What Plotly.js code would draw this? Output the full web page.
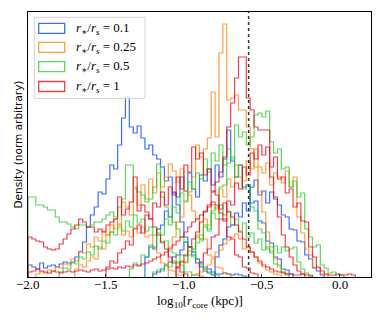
<!DOCTYPE html>
<html><head><meta charset="utf-8">
<script src="https://cdn.plot.ly/plotly-3.0.1.min.js"></script>
<style>html,body{margin:0;padding:0;background:#fff}</style>
</head><body><div id="chart" style="width:382px;height:319px"></div>
<script>
// bin width of all histograms (log10 kpc)
const binWidth = 0.025;

// r*/rs = 0.1 (blue)
const blue1Start = -2.0;
const blue1 = [12,10,8,14,9,11,12,10,13,15,14,15,20,25,35,50,62,70,85,83,98,112,108,132,159,180,150,144,151,139,128,132,122,118,110,96,100,85,72,55,40,30,22,14,10,6,4,2];
const blue2Start = -1.25;
const blue2 = [20,30,28,48,52,66,60,84,80,100,86,104,88,80,102,96,108,92,112,100,118,147,116,100,112,90,92,74,76,56,54,36,34,20,18,8,7,3];
const blue3Start = -0.8;
const blue3 = [20,32,38,50,52,64,60,74,66,90,97,82,86,74,85,78,72,62,60,48,47,36,35,22,18,9,6,2];
const blue4Start = -1.2;
const blue4 = [3,5,8,12,15,20,22,27,35,30,25,18,14,10,8,5,3,3,4,3,2,3,2,1];

// r*/rs = 0.25 (orange)
const orange1Start = -1.1;
const orange1 = [30,40,55,60,75,85,100,132,120,128,139,185,140,224,253,177,179,182,167,167,150,128,110,85,65,45,30,18,10,5,2];
const orange2Start = -1.05;
const orange2 = [10,16,14,26,28,42,38,58,52,72,68,88,80,98,90,112,100,96,116,108,128,110,104,114,92,104,100,94,106,90,100,60,44,28,22,10,9,3,2];
const orange3Start = -1.7;
const orange3 = [8,12,10,16,20,18,30,28,42,45,58,52,75,70,62,88,72,92,78,98,84,104,90,100,113,106,95,108,86,82,66,58,42,38,22,20,10,9,4,3];
const orange4Start = -1.95;
const orange4 = [3,5,4,7,6,10,9,13,12,18,16,26,24,33,30,40,36,46,42,52,48,53,42,46,40,49,44,50,40,42,30,24,14,13,7,6,2,2];
const orange5Start = -0.95;
const orange5 = [2,3,5,8,12,18,25,27,33,37,40,43,38,28,30,25,20,14,10,7,5,3,2];

// r*/rs = 0.5 (green)
const green1Start = -2.0;
const green1 = [80,80,72,72,70,67,67,60,55,55,53,50,48,52,52,50,52,55,55,58,62,65,60,70,78,112,112,90,85,82,75,78,90,113,80,70,60,55,48,40,35,30,25,18,12,8,5,3,2];
const green2Start = -1.0;
const green2 = [15,22,20,34,36,50,46,66,70,90,92,114,118,152,140,145,132,140,162,164,160,166,135,124,128,108,110,90,96,80,84,48,40,30,32,12,9,4,5,2,2];
const green3Start = -1.35;
const green3 = [8,14,12,22,20,32,30,48,42,58,52,70,64,84,76,95,88,104,98,118,105,124,116,132,112,128,120,100,112,88,92,70,66,48,44,28,24,13,12,5,3];
const green4Start = -1.8;
const green4 = [5,9,8,14,13,20,18,25,22,31,28,36,34,45,42,50,46,56,50,62,54,58,46,50,42,44,34,36,26,24,14,12,5,5,2,2,1];
const green5Start = -1.2;
const green5 = [5,7,6,11,10,16,15,22,21,30,28,40,38,52,48,64,58,72,62,66,52,58,46,54,40,44,34,38,27,30,26,31,24,30,26,28,30,15,8,4,2];

// r*/rs = 1 (red)
const red1Start = -2.0;
const red1 = [40,38,36,35,30,28,27,28,33,38,43,48,52,58,55,50,50,45,48,45,52,55,58,80,62,68,75,100,66,72,65,58,50,42,35,28,20,14,9,5,3];
const red2Start = -1.05;
const red2 = [10,15,22,30,38,45,55,65,72,85,95,105,120,150,174,199,220,220,179,167,150,147,147,147,100,80,60,42,30,20,12,6,3];
const red3Start = -0.9;
const red3 = [15,24,28,40,42,58,56,76,72,94,88,110,102,124,118,132,122,130,110,120,98,100,84,88,70,74,56,55,30,20,10,6,3,2,2,3,2,2,3,2];
const red4Start = -1.5;
const red4 = [10,16,14,24,28,36,32,48,52,44,62,58,74,70,85,72,90,82,100,88,112,105,130,118,124,102,108,86,82,64,58,40,38,22,20,10,9,4,3];
const red5Start = -2.0;
const red5 = [5,6,8,6,5,4,6,5,4,5,6,5,6,7,6,5,7,8,6,7,8,9,8,10,9,11,10,12,11,13,14,16,18,20,22,25,28,32,36,40,45,50,55,58,62,66,70,75,72,68,74,65,60,52,45,38,30,25,20,16,12,10,8,6,5,4,3,3,2,2,3,2,1];

const refLine = -0.585;
const xTickVals = [-2.0, -1.5, -1.0, -0.5, 0.0];
const xTickText = ['\u22122.0','\u22121.5','\u22121.0','\u22120.5','0.0'];
const legendLabels = ['0.1', '0.25', '0.5', '1'];

const SERIF = 'Liberation Serif, DejaVu Serif, serif';
const colors = ['rgb(0,60,255)', 'rgb(255,127,0)', 'rgb(40,200,40)', 'rgb(232,0,20)'];
const groups = [
  [[blue1Start, blue1], [blue2Start, blue2], [blue3Start, blue3], [blue4Start, blue4]],
  [[orange1Start, orange1], [orange2Start, orange2], [orange3Start, orange3], [orange4Start, orange4], [orange5Start, orange5]],
  [[green1Start, green1], [green2Start, green2], [green3Start, green3], [green4Start, green4], [green5Start, green5]],
  [[red1Start, red1], [red2Start, red2], [red3Start, red3], [red4Start, red4], [red5Start, red5]]
];

function stepXY(start, vals) {
  const xs = [start], ys = [0];
  for (let i = 0; i < vals.length; i++) { xs.push(start + i * binWidth); ys.push(vals[i]); }
  const end = start + vals.length * binWidth;
  xs.push(end); ys.push(vals[vals.length - 1]);
  xs.push(end); ys.push(0);
  return {xs, ys};
}

const traces = [];
groups.forEach((g, gi) => {
  g.forEach(([s, v]) => {
    const st = stepXY(s, v);
    traces.push({
      type: 'scatter', mode: 'lines', x: st.xs, y: st.ys,
      line: {shape: 'hv', color: colors[gi], width: 1.2},
      opacity: 0.75, hoverinfo: 'skip', showlegend: false
    });
  });
});

// manual legend / labels (paper coords)
const X0 = 28, Y0 = 12, W = 343, H = 265;
const px = x => (x - X0) / W;
const py = y => (Y0 + H - y) / H;
const shapes = [
  {type: 'line', xref: 'x', yref: 'paper', x0: refLine, x1: refLine, y0: 0, y1: 1,
   line: {color: '#333', width: 1.5, dash: 'dot'}, layer: 'above'},
  {type: 'rect', xref: 'paper', yref: 'paper', x0: px(34.3), x1: px(145), y0: py(98.3), y1: py(17.3),
   line: {color: '#d4d4d4', width: 1}, fillcolor: 'rgba(255,255,255,0.8)', layer: 'above'}
];
const annotations = [];
const patchTops = [23.3, 42.3, 61.7, 81.5];
legendLabels.forEach((lab, i) => {
  shapes.push({type: 'rect', xref: 'paper', yref: 'paper', x0: px(38.7), x1: px(64.7),
    y0: py(patchTops[i] + 10), y1: py(patchTops[i]),
    line: {color: colors[i], width: 1.3}, fillcolor: 'rgba(0,0,0,0)', opacity: 0.75, layer: 'above'});
  annotations.push({xref: 'paper', yref: 'paper', x: px(73.5), y: py(patchTops[i] + 5),
    xanchor: 'left', yanchor: 'middle', showarrow: false,
    text: '<i>r</i><sub>\u2217</sub>/<i>r</i><sub><i>s</i></sub> = ' + lab,
    font: {family: SERIF, size: 13, color: '#000'}});
});
xTickVals.forEach((v, i) => {
  annotations.push({xref: 'x', yref: 'paper', x: v, y: py(284.5), xanchor: 'center', yanchor: 'middle',
    showarrow: false, text: xTickText[i], font: {family: SERIF, size: 13, color: '#000'}});
});
annotations.push({xref: 'paper', yref: 'paper', x: 0.5, y: py(301), xanchor: 'center', yanchor: 'middle',
  showarrow: false, text: 'log<sub>10</sub>[<i>r</i><sub>core</sub> (kpc)]',
  font: {family: SERIF, size: 13, color: '#000'}});
annotations.push({xref: 'paper', yref: 'paper', x: px(17), y: 0.5, xanchor: 'center', yanchor: 'middle',
  showarrow: false, textangle: -90, text: 'Density (norm arbitrary)',
  font: {family: 'DejaVu Sans', size: 10.5, color: '#000'}});

const layout = {
  width: 382, height: 319,
  margin: {l: 28, r: 11, t: 12, b: 42},
  paper_bgcolor: '#fff', plot_bgcolor: '#fff',
  showlegend: false,
  xaxis: {range: [-2, 0.2], tickvals: xTickVals, showticklabels: false, ticks: 'inside', ticklen: 3.5,
    tickwidth: 0.8, tickcolor: '#000', showgrid: false, zeroline: false, showline: true, mirror: true,
    linecolor: '#000', linewidth: 1},
  yaxis: {range: [0, 265], showticklabels: false, ticks: '', showgrid: false, zeroline: false,
    showline: true, mirror: true, linecolor: '#000', linewidth: 1},
  shapes: shapes, annotations: annotations
};

Plotly.newPlot('chart', traces, layout, {staticPlot: true, displayModeBar: false});
</script></body></html>
